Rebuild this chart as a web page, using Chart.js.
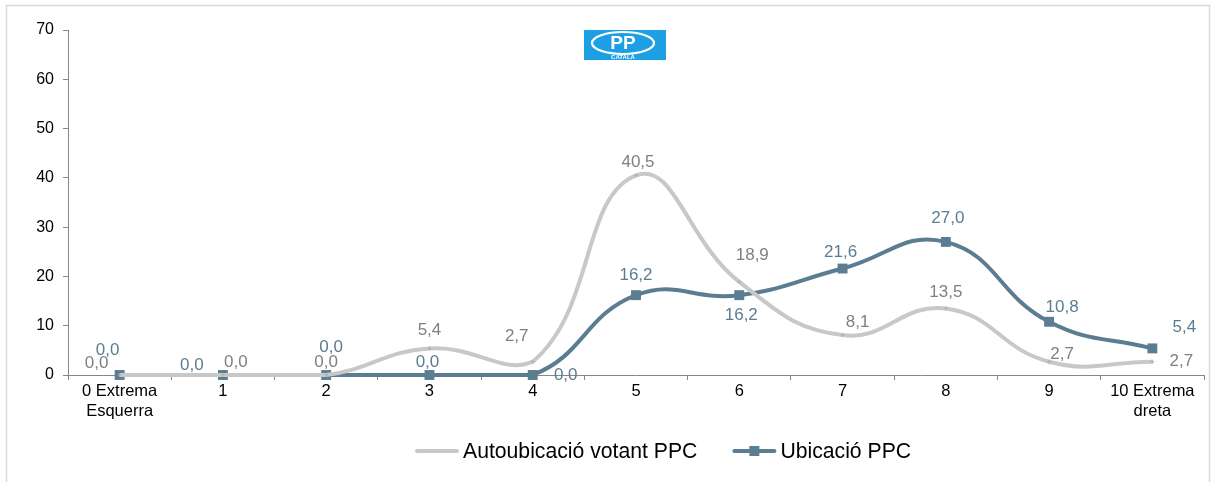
<!DOCTYPE html>
<html>
<head>
<meta charset="utf-8">
<script src="https://cdn.jsdelivr.net/npm/chart.js@4/dist/chart.umd.min.js"></script>
<style>
  html, body { margin: 0; padding: 0; background: #fff; }
  #wrap { position: relative; width: 1211px; height: 482px; }
</style>
</head>
<body>
<div id="wrap"><canvas id="chart" width="1211" height="482"></canvas></div>
<script>
// scale 0..10, left to right
const categories = [
  ["0 Extrema", "Esquerra"], "1", "2", "3", "4", "5", "6", "7", "8", "9", ["10 Extrema", "dreta"]
];
const seriesNames = ["Autoubicació votant PPC", "Ubicació PPC"];
const autoubicacio = [0.0, 0.0, 0.0, 5.4, 2.7, 40.5, 18.9, 8.1, 13.5, 2.7, 2.7];
const ubicacio = [0.0, 0.0, 0.0, 0.0, 0.0, 16.2, 16.2, 21.6, 27.0, 10.8, 5.4];
const yTicks = [0, 10, 20, 30, 40, 50, 60, 70];

const FONT = "'Liberation Sans', Arial, sans-serif";
const GREY = "#c8c8c8";
const GREY_TXT = "#808080";
const BLUE = "#5a7d92";
const BLUE_TXT = "#5a7d92";

// where each value label sits relative to its point (dx, dy)
const greyLabelPos = [[-23, -12], [13, -13], [0, -13], [0, -18], [-16, -25], [2, -13],
  [13, -27], [15, -13], [0, -16], [13, -7], [29, 0]];
const blueLabelPos = [[-12, -25], [-31, -10], [5, -28], [-2, -13], [33, 0], [0, -20],
  [2, 20], [-2, -16], [2, -24], [13, -14], [32, -21]];

const fmt = v => v.toFixed(1).replace(".", ",");

// frame, logo, value labels and legend
const decor = {
  id: "decor",
  beforeDraw(chart) {
    const ctx = chart.ctx;
    ctx.save();
    ctx.strokeStyle = "#d9d9d9";
    ctx.lineWidth = 1.5;
    ctx.strokeRect(6.5, 5.5, 1203, 520);
    ctx.restore();
  },
  afterDatasetsDraw(chart) {
    const ctx = chart.ctx;
    ctx.save();
    ctx.font = "17px " + FONT;
    ctx.textAlign = "center";
    ctx.textBaseline = "middle";
    [[0, greyLabelPos, GREY_TXT], [1, blueLabelPos, BLUE_TXT]].forEach(([di, pos, col]) => {
      const meta = chart.getDatasetMeta(di);
      const vals = chart.data.datasets[di].data;
      ctx.fillStyle = col;
      meta.data.forEach((pt, i) => {
        ctx.fillText(fmt(vals[i]), pt.x + pos[i][0], pt.y + pos[i][1]);
      });
    });
    ctx.restore();
  },
  afterDraw(chart) {
    const ctx = chart.ctx;
    ctx.save();
    // party logo
    ctx.fillStyle = "#1d9fe3";
    ctx.fillRect(584, 30, 82, 30);
    ctx.strokeStyle = "#fff";
    ctx.lineWidth = 2.2;
    ctx.beginPath();
    ctx.ellipse(623, 43, 31, 11, 0, 0, Math.PI * 2);
    ctx.stroke();
    ctx.fillStyle = "#fff";
    ctx.font = "bold 19px " + FONT;
    ctx.textAlign = "center";
    ctx.textBaseline = "middle";
    ctx.fillText("PP", 623, 44);
    ctx.font = "bold 6px " + FONT;
    ctx.fillText("CATALÀ", 623, 57);

    // legend
    const y = 451;
    ctx.font = "21.2px " + FONT;
    ctx.textAlign = "left";
    ctx.textBaseline = "middle";
    const items = [
      { name: seriesNames[0], color: GREY, square: false },
      { name: seriesNames[1], color: BLUE, square: true }
    ];
    const sample = 44, gap = 4, spacing = 35;
    const widths = items.map(it => sample + gap + ctx.measureText(it.name).width);
    let x = 415;
    items.forEach((it, i) => {
      ctx.strokeStyle = it.color;
      ctx.lineWidth = 4;
      ctx.lineCap = "round";
      ctx.beginPath();
      ctx.moveTo(x + 2, y);
      ctx.lineTo(x + sample - 2, y);
      ctx.stroke();
      if (it.square) {
        ctx.fillStyle = it.color;
        ctx.fillRect(x + sample / 2 - 5, y - 5, 10, 10);
      }
      ctx.fillStyle = "#000";
      ctx.fillText(it.name, x + sample + gap, y + 1);
      x += widths[i] + spacing;
    });
    ctx.restore();
  }
};

new Chart(document.getElementById("chart"), {
  type: "line",
  data: {
    labels: categories,
    datasets: [
      {
        label: seriesNames[0],
        data: autoubicacio,
        borderColor: GREY,
        borderWidth: 4,
        tension: 0.45,
        pointStyle: "cross",
        pointRadius: 2,
        pointBorderWidth: 1,
        pointBorderColor: "#b0b0b0",
        clip: 8
      },
      {
        label: seriesNames[1],
        data: ubicacio,
        borderColor: BLUE,
        borderWidth: 4,
        tension: 0.45,
        pointStyle: "rect",
        pointRadius: 7,
        pointBackgroundColor: BLUE,
        pointBorderColor: BLUE,
        pointBorderWidth: 0,
        clip: 8
      }
    ]
  },
  options: {
    responsive: false,
    animation: false,
    layout: { padding: { top: 30, right: 7, bottom: 37, left: 0 } },
    plugins: {
      legend: { display: false },
      tooltip: { enabled: false }
    },
    scales: {
      x: {
        offset: true,
        grid: { display: true, offset: true, drawOnChartArea: false, tickLength: 5, color: "#868686" },
        border: { color: "#868686", width: 1 },
        ticks: { color: "#000", font: { family: FONT, size: 16.5, lineHeight: 1.2 }, padding: 2, maxRotation: 0, autoSkip: false },
        afterFit: s => { s.height = 70; }
      },
      y: {
        min: 0,
        max: 70,
        afterBuildTicks: s => { s.ticks = yTicks.map(v => ({ value: v })); },
        grid: { display: true, drawOnChartArea: false, tickLength: 5, color: "#868686" },
        border: { color: "#868686", width: 1 },
        ticks: { color: "#000", font: { family: FONT, size: 16 }, padding: 9 },
        afterFit: s => { s.width = 68; }
      }
    }
  },
  plugins: [decor]
});
</script>
</body>
</html>
